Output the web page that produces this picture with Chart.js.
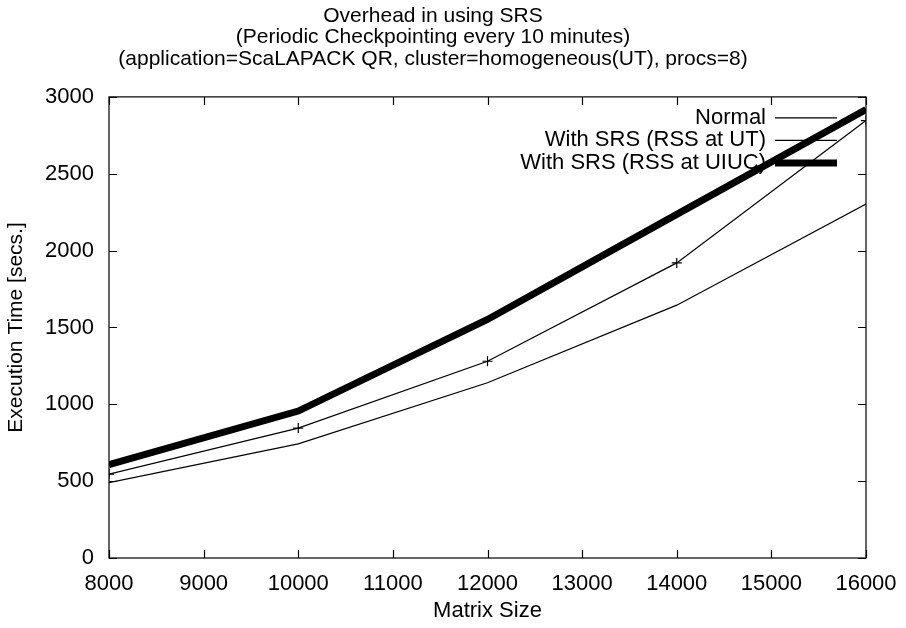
<!DOCTYPE html>
<html>
<head>
<meta charset="utf-8">
<script src="https://cdn.jsdelivr.net/npm/chart.js@4/dist/chart.umd.min.js"></script>
<style>
  html,body{margin:0;padding:0;background:#fff;}
  #wrap{width:906px;height:628px;}
</style>
</head>
<body>
<div id="wrap"><canvas id="c" width="906" height="628"></canvas></div>
<script>
// matrix sizes (x) and execution times in seconds
const matrixSize = [8000, 10000, 12000, 14000, 16000];
const normalTime = [490, 743, 1140, 1645, 2303];
const srsUT      = [546, 845, 1280, 1920, 2846];
const srsUIUC    = [607, 956, 1552, 2236, 2918];

const seriesNames = ['Normal', 'With SRS (RSS at UT)', 'With SRS (RSS at UIUC)'];
const xTicks = [8000, 9000, 10000, 11000, 12000, 13000, 14000, 15000, 16000];
const yTicks = [0, 500, 1000, 1500, 2000, 2500, 3000];

const FONT = '"Liberation Sans", Arial, Helvetica, sans-serif';
const pts = ys => matrixSize.map((x,i)=>({x, y:ys[i]}));

// gnuplot style box with inward ticks on all four sides
const boxTicks = {
  id:'boxTicks',
  afterDatasetsDraw(chart){
    const {ctx, chartArea:a, scales:{x,y}} = chart;
    ctx.save();
    ctx.strokeStyle = '#000'; ctx.lineWidth = 1.2;
    ctx.strokeRect(a.left, a.top, a.right-a.left, a.bottom-a.top);
    const L = 8;
    ctx.beginPath();
    xTicks.forEach(v=>{
      const px = Math.round(x.getPixelForValue(v))+.5;
      ctx.moveTo(px, a.bottom); ctx.lineTo(px, a.bottom-L);
      ctx.moveTo(px, a.top); ctx.lineTo(px, a.top+L);
    });
    yTicks.forEach(v=>{
      const py = Math.round(y.getPixelForValue(v))+.5;
      ctx.moveTo(a.left, py); ctx.lineTo(a.left+L, py);
      ctx.moveTo(a.right, py); ctx.lineTo(a.right-L, py);
    });
    ctx.stroke();
    ctx.restore();
  }
};

// key in the top right corner: label text right aligned, sample line to its right
const keyBox = {
  id:'keyBox',
  beforeDatasetsDraw(chart){
    const {ctx, chartArea:a} = chart;
    ctx.save();
    ctx.font = `22px ${FONT}`;
    ctx.fillStyle = '#000';
    ctx.textAlign = 'right'; ctx.textBaseline = 'middle';
    chart.data.datasets.forEach((ds,i)=>{
      const yy = a.top + 21 + i*22.5;
      ctx.fillText(ds.label, a.right-100, yy);
      ctx.strokeStyle = '#000'; ctx.lineWidth = ds.borderWidth;
      ctx.beginPath(); ctx.moveTo(a.right-91, yy); ctx.lineTo(a.right-29, yy); ctx.stroke();
    });
    ctx.restore();
  }
};

new Chart(document.getElementById('c').getContext('2d'), {
  type:'line',
  data:{
    datasets:[
      { label:seriesNames[0], data:pts(normalTime), borderColor:'#000', borderWidth:1.2,
        pointRadius:0, tension:0 },
      { label:seriesNames[1], data:pts(srsUT), borderColor:'#000', borderWidth:1.2,
        pointStyle:'cross', pointRadius:5, pointBorderWidth:1.2, pointBorderColor:'#000', tension:0 },
      { label:seriesNames[2], data:pts(srsUIUC), borderColor:'#000', borderWidth:7,
        pointRadius:0, tension:0, borderJoinStyle:'miter' }
    ]
  },
  options:{
    responsive:false, animation:false,
    layout:{padding:{left:0, right:40, top:0, bottom:0}},
    plugins:{
      legend:{display:false},
      tooltip:{enabled:false},
      title:{
        display:true, color:'#000',
        text:['Overhead in using SRS',
              '(Periodic Checkpointing every 10 minutes)',
              '(application=ScaLAPACK QR, cluster=homogeneous(UT), procs=8)'],
        font:{family:FONT, size:21, weight:'normal', lineHeight:1.03},
        padding:{top:5, bottom:27}
      }
    },
    scales:{
      x:{
        type:'linear', min:8000, max:16000,
        afterBuildTicks:s=>{ s.ticks = xTicks.map(v=>({value:v})); },
        afterFit:s=>{ s.height = 70; s.paddingLeft = 0; s.paddingRight = 0; },
        grid:{display:false, drawTicks:false},
        border:{display:false},
        ticks:{color:'#000', padding:13, maxRotation:0, font:{family:FONT, size:22},
               callback:v=>String(v)},
        title:{display:true, text:'Matrix Size', color:'#000',
               font:{family:FONT, size:22}, padding:{top:6, bottom:4}}
      },
      y:{
        type:'linear', min:0, max:3000,
        afterBuildTicks:s=>{ s.ticks = yTicks.map(v=>({value:v})); },
        afterFit:s=>{ s.width = 109; },
        grid:{display:false, drawTicks:false},
        border:{display:false},
        ticks:{color:'#000', padding:15, font:{family:FONT, size:22},
               callback:v=>String(v)},
        title:{display:true, text:'Execution Time [secs.]', color:'#000',
               font:{family:FONT, size:21}, padding:{top:4, bottom:0}}
      }
    }
  },
  plugins:[boxTicks, keyBox]
});
</script>
</body>
</html>
